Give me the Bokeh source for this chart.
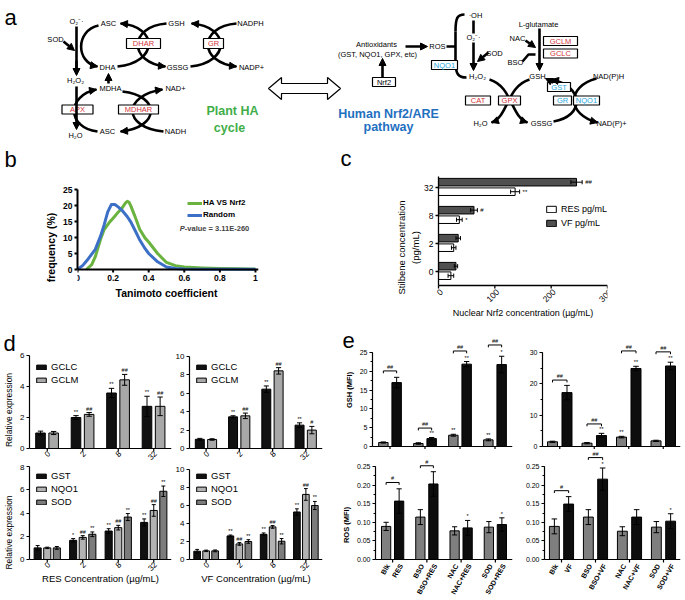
import numpy as np
from bokeh.plotting import figure
from bokeh.layouts import column, row
from bokeh.models import (Range1d, FixedTicker, SingleIntervalTicker, Legend, LegendItem, Label,
                          LabelSet, Arrow, NormalHead, ColumnDataSource, NumeralTickFormatter, Span)
from bokeh.core.properties import value
from bokeh.embed import file_html
from bokeh.resources import INLINE

FONT = "Liberation Sans"
VFONT = value(FONT)

# ---------------- data ----------------
# (b) Tanimoto coefficient distributions (frequency, %)
ha_x = [0.05, 0.08, 0.10, 0.13, 0.15, 0.18, 0.20, 0.23, 0.25, 0.27, 0.28, 0.29, 0.30, 0.32, 0.35,
        0.38, 0.40, 0.45, 0.50, 0.55, 0.60, 0.70, 0.80, 0.90, 1.00]
ha_y = [0, 1.5, 4, 9.5, 12.5, 14.8, 16, 18, 19.2, 20.8, 21.3, 21.0, 19.8, 17, 12.5,
        9.8, 8.6, 5, 2.2, 1.2, 0.8, 0.5, 0.3, 0.2, 0.1]
rand_x = [0, 0.03, 0.06, 0.10, 0.13, 0.15, 0.17, 0.19, 0.21, 0.23, 0.25, 0.28, 0.30, 0.33, 0.35,
          0.38, 0.40, 0.45, 0.50, 0.55, 0.60, 0.70, 0.80, 0.90, 1.00]
rand_y = [0, 1.3, 3.3, 6.3, 10.5, 14, 18, 20.3, 20.3, 19.5, 18.5, 16.5, 14.8, 11.5, 9.2,
          6.5, 5, 2.4, 0.8, 0.3, 0.15, 0.1, 0.05, 0.05, 0.05]
b_ticks = [0, 0.2, 0.4, 0.6, 0.8, 1.0]
b_tick_labels = ["0", "0.2", "0.4", "0.6", "0.8", "1"]

# (c) nuclear Nrf2
stilbene_conc = ["0", "2", "8", "32"]
nrf2_ticks = [0, 100, 200, 300]
res_nrf2 = [22, 27, 37, 136]
res_nrf2_err = [5, 4, 5, 8]
res_nrf2_sig = ["", "", "*", "**"]
vf_nrf2 = [31, 35, 63, 245]
vf_nrf2_err = [3, 4, 6, 10]
vf_nrf2_sig = ["", "", "#", "##"]

# (d) relative expression
conc_labels = ["0", "2", "8", "32"]
res_gclc = [1.0, 2.0, 3.58, 2.72]; res_gclc_err = [0.12, 0.12, 0.3, 0.65]; res_gclc_sig = ["", "**", "**", "**"]
res_gclm = [1.0, 2.2, 4.43, 2.72]; res_gclm_err = [0.1, 0.12, 0.35, 0.6]; res_gclm_sig = ["", "##", "##", "##"]
vf_gclc = [1.0, 3.44, 6.45, 2.54]; vf_gclc_err = [0.1, 0.12, 0.35, 0.25]; vf_gclc_sig = ["", "**", "**", "**"]
vf_gclm = [0.98, 3.55, 8.44, 2.0]; vf_gclm_err = [0.08, 0.3, 0.35, 0.4]; vf_gclm_sig = ["", "##", "##", "#"]
res_gst = [1.0, 1.65, 2.45, 3.19]; res_gst_err = [0.2, 0.15, 0.2, 0.3]; res_gst_sig = ["", "*", "**", "**"]
res_nqo1 = [1.0, 1.9, 2.74, 4.22]; res_nqo1_err = [0.06, 0.15, 0.2, 0.5]; res_nqo1_sig = ["", "##", "##", "##"]
res_sod = [1.0, 2.17, 3.65, 5.87]; res_sod_err = [0.12, 0.2, 0.3, 0.45]; res_sod_sig = ["", "**", "**", "**"]
vf_gst = [0.92, 2.62, 2.8, 5.28]; vf_gst_err = [0.2, 0.1, 0.15, 0.35]; vf_gst_sig = ["", "**", "**", "**"]
vf_nqo1 = [0.96, 1.73, 3.62, 7.23]; vf_nqo1_err = [0.08, 0.15, 0.15, 0.65]; vf_nqo1_sig = ["", "##", "##", "##"]
vf_sod = [0.96, 2.0, 2.03, 6.0]; vf_sod_err = [0.1, 0.2, 0.3, 0.45]; vf_sod_sig = ["", "**", "**", "**"]

# (e) GSH and ROS (MFI)
e_res_labels = ["Blk", "RES", "BSO", "BSO+RES", "NAC", "NAC+RES", "SOD", "SOD+RES"]
e_vf_labels = ["Blk", "VF", "BSO", "BSO+VF", "NAC", "NAC+VF", "SOD", "SOD+VF"]
gsh_res = [1.06, 17.0, 0.8, 2.1, 3.0, 21.9, 1.77, 21.8]
gsh_res_err = [0.15, 1.4, 0.2, 0.3, 0.25, 0.7, 0.25, 2.2]
gsh_res_sig = ["", "", "", "**", "**", "**", "**", "*"]
gsh_res_br = [20.1, 4.9, 25.4, 27.0]; gsh_res_br_lab = ["##", "##", "##", "##"]
gsh_vf = [1.5, 17.2, 1.06, 3.5, 3.0, 24.9, 1.8, 25.7]
gsh_vf_err = [0.2, 2.3, 0.2, 0.7, 0.25, 0.7, 0.2, 1.2]
gsh_vf_sig = ["", "", "", "**", "**", "**", "", "**"]
gsh_vf_br = [21.2, 7.2, 30.5, 30.2]; gsh_vf_br_lab = ["##", "##", "##", "##"]
ros_res = [0.089, 0.157, 0.114, 0.203, 0.077, 0.085, 0.087, 0.094]
ros_res_err = [0.011, 0.033, 0.02, 0.033, 0.011, 0.02, 0.015, 0.018]
ros_res_sig = ["", "", "", "", "", "*", "", "*"]
ros_res_br = [0.207, 0.252]; ros_res_br_lab = ["#", "#"]
ros_vf = [0.089, 0.149, 0.114, 0.216, 0.076, 0.114, 0.087, 0.103]
ros_vf_err = [0.02, 0.02, 0.02, 0.03, 0.012, 0.02, 0.015, 0.02]
ros_vf_sig = ["", "", "", "*", "", "", "", "*"]
ros_vf_br = [0.185, 0.274]; ros_vf_br_lab = ["#", "##"]


# ---------------- helpers ----------------
def mkfig(w, h, l, r, t, b, xr, yr):
    p = figure(width=w, height=h, x_range=xr, y_range=yr, output_backend="svg",
               toolbar_location=None, min_border_left=l, min_border_right=r,
               min_border_top=t, min_border_bottom=b)
    p.outline_line_color = None
    p.xgrid.visible = False
    p.ygrid.visible = False
    p.background_fill_color = "white"
    p.border_fill_color = "white"
    return p


def style(ax, size="8px", bold=False, lsize="9px", lbold=False, lw=1.2):
    ax.axis_line_color = "black"
    ax.axis_line_width = lw
    ax.major_tick_line_color = "black"
    ax.major_tick_line_width = lw
    ax.major_tick_out = 3
    ax.major_tick_in = 0
    ax.minor_tick_line_color = None
    ax.major_label_text_font = FONT
    ax.major_label_text_font_size = size
    ax.major_label_text_font_style = "bold" if bold else "normal"
    ax.major_label_text_color = "black"
    ax.major_label_standoff = 2
    ax.axis_label_text_font = FONT
    ax.axis_label_text_font_size = lsize
    ax.axis_label_text_font_style = "bold" if lbold else "normal"
    ax.axis_label_text_color = "black"
    ax.axis_label_standoff = 3


def title_letter(p, s, offset, standoff):
    p.title.text = s
    p.title.text_font = FONT
    p.title.text_font_size = "22px"
    p.title.text_font_style = "normal"
    p.title.text_color = "black"
    p.title.align = "left"
    p.title.offset = offset
    p.title.standoff = standoff


def y_window(T, B, Y0, Yv, v):
    """data range of a frame from local pixel T (top) to B (bottom), value 0 at Y0 and v at Yv."""
    ppu = (Y0 - Yv) / v
    return Range1d(-(B - Y0) / ppu, (Y0 - T) / ppu), ppu


def bars(p, pos, vals, errs, color, sig, bw, sigsize="5.5px", horizontal=False):
    pos = np.asarray(pos, float)
    vals = np.asarray(vals, float)
    errs = np.asarray(errs, float)
    cap = bw * 0.28
    src = ColumnDataSource(dict(pos=pos, val=vals, up=vals + errs, lo=np.maximum(vals - errs, 0),
                                c0=pos - cap, c1=pos + cap, sig=sig))
    if not horizontal:
        r = p.vbar(x="pos", top="val", bottom=0, width=bw, fill_color=color, line_color="black",
                   line_width=1, source=src)
        p.segment(x0="pos", y0="lo", x1="pos", y1="up", line_color="black", line_width=1, source=src)
        p.segment(x0="c0", y0="up", x1="c1", y1="up", line_color="black", line_width=1, source=src)
        p.segment(x0="c0", y0="lo", x1="c1", y1="lo", line_color="black", line_width=1, source=src)
        p.add_layout(LabelSet(x="pos", y="up", text="sig", source=src, text_align="center",
                              text_baseline="bottom", y_offset=1, text_font=VFONT,
                              text_font_size=sigsize, text_color="black"))
    else:
        r = p.hbar(y="pos", right="val", left=0, height=bw, fill_color=color, line_color="black",
                   line_width=1, source=src)
        p.segment(x0="lo", y0="pos", x1="up", y1="pos", line_color="black", line_width=1, source=src)
        p.segment(x0="up", y0="c0", x1="up", y1="c1", line_color="black", line_width=1, source=src)
        p.segment(x0="lo", y0="c0", x1="lo", y1="c1", line_color="black", line_width=1, source=src)
        p.add_layout(LabelSet(x="up", y="pos", text="sig", source=src, text_align="left",
                              text_baseline="middle", x_offset=3, text_font=VFONT,
                              text_font_size=sigsize, text_color="black"))
    return r


def legend(p, items, location, margin=6, size="9.5px", gw=12, gh=6, spacing=2, lh=9):
    leg = Legend(items=items, location=location, margin=margin, padding=0, spacing=spacing,
                 glyph_width=gw, glyph_height=gh, label_standoff=4, label_text_font=FONT,
                 label_text_font_size=size, label_height=lh, border_line_alpha=0,
                 background_fill_alpha=0, label_text_color="black")
    p.add_layout(leg)
    return leg


def x_axis_in_frame(p, tick_x, label_x, labels, ppu, angle=0.0, size="8px", bold=False, lw=1.2,
                    title=None, title_dy=0, title_x=None, title_size="9.5px", title_bold=False,
                    label_dy=5):
    """x axis drawn at y = 0 inside the frame (frame reaches to the figure bottom)."""
    p.xaxis.visible = False
    p.add_layout(Span(location=0, dimension="width", line_color="black", line_width=lw))
    tl = 3.0 / ppu
    p.segment(x0=list(tick_x), y0=[0] * len(tick_x), x1=list(tick_x), y1=[-tl] * len(tick_x),
              line_color="black", line_width=lw)
    src = ColumnDataSource(dict(x=list(label_x), y=[0] * len(label_x), t=labels))
    style_kw = dict(text_font=VFONT, text_font_size=size, text_font_style="bold" if bold else "normal",
                    text_color="black")
    if labels:
        if angle:
            p.add_layout(LabelSet(x="x", y="y", text="t", source=src, angle=angle, text_align="right",
                                  text_baseline="middle", x_offset=2, y_offset=-label_dy, **style_kw))
        else:
            p.add_layout(LabelSet(x="x", y="y", text="t", source=src, text_align="center",
                                  text_baseline="top", y_offset=-label_dy, **style_kw))
    if title:
        p.add_layout(Label(x=title_x, y=0, y_offset=-title_dy, text=title, text_align="center",
                           text_baseline="middle", text_font=FONT, text_font_size=title_size,
                           text_font_style="bold" if title_bold else "normal", text_color="black"))


# ---------------- panel a (diagram) ----------------
pa = figure(width=685, height=176, x_range=Range1d(0, 685), y_range=Range1d(176, 0),
            x_axis_type=None, y_axis_type=None, output_backend="svg", toolbar_location=None,
            min_border=0)
pa.outline_line_color = None
pa.background_fill_color = "white"
pa.border_fill_color = "white"

RED = "#d2353b"
CYAN = "#2aa6dc"


def arrow(p, xs, ys, xe, ye, lw=2.6, size=6, line=True):
    kw = dict(line_width=lw, line_color="black")
    if not line:
        kw = dict(line_alpha=0)
    p.add_layout(Arrow(end=NormalHead(size=size, fill_color="black", line_color="black", line_width=1),
                       x_start=xs, y_start=ys, x_end=xe, y_end=ye, **kw))


diag_text = [
    ("O₂⁻·", 76, 21), ("SOD", 55, 39), ("H₂O₂", 75, 80), ("H₂O", 75, 135),
    ("ASC", 108, 23), ("DHA", 107, 67), ("MDHA", 110, 88), ("ASC", 107, 131),
    ("GSH", 176, 23), ("GSSG", 177, 67), ("NADPH", 250, 23), ("NADP+", 251, 67),
    ("NAD+", 175, 88), ("NADH", 175, 131),
    ("Antioxidants", 376, 44), ("(GST, NQO1, GPX, etc)", 377, 54), ("ROS", 437, 46),
    ("·OH", 475, 15), ("O₂⁻·", 473, 37), ("SOD", 494, 53), ("H₂O₂", 477, 76),
    ("L-glutamate", 538, 24), ("NAC", 517, 38), ("BSO", 515, 62), ("GSH", 537, 76),
    ("NAD(P)H", 608, 76), ("H₂O", 480, 123), ("GSSG", 541, 123), ("NAD(P)+", 611, 123),
]
pa.text(x=[t[1] for t in diag_text], y=[t[2] for t in diag_text], text=[t[0] for t in diag_text],
        text_font=VFONT, text_font_size="7.5px", text_align="center", text_baseline="middle",
        text_color="black")

curves = [
    (98, 25, 75, 30, 75, 62, 97, 66, True),
    (117, 66, 158, 62, 158, 26, 120, 23, True),
    (166, 23, 128, 26, 128, 62, 165, 66, True),
    (190, 66, 230, 62, 230, 26, 191, 23, True),
    (236, 23, 198, 26, 198, 62, 236, 66, True),
    (122, 91, 160, 95, 160, 127, 120, 131, True),
    (163, 131, 122, 127, 122, 95, 162, 89, True),
    (97, 131, 66, 127, 66, 95, 96, 89, True),
    (489, 79, 512, 86, 510, 116, 527, 122, True),
    (529, 79, 506, 86, 508, 116, 491, 122, True),
    (553, 121, 584, 116, 584, 86, 551, 79, True),
    (596, 78, 566, 86, 566, 114, 597, 122, True),
    (455, 31, 455, 17, 457, 14, 464, 14, False),
    (455, 61, 455, 74, 458, 77, 466, 77, False),
]
pa.bezier(x0=[c[0] for c in curves], y0=[c[1] for c in curves],
          cx0=[c[2] for c in curves], cy0=[c[3] for c in curves],
          cx1=[c[4] for c in curves], cy1=[c[5] for c in curves],
          x1=[c[6] for c in curves], y1=[c[7] for c in curves],
          line_color="black", line_width=2.6)
for c in curves:
    if c[8]:
        x1, y1, cx1, cy1 = c[6], c[7], c[4], c[5]
        arrow(pa, x1 - 0.3 * (x1 - cx1), y1 - 0.3 * (y1 - cy1), x1, y1, line=False, size=7)

pa.segment(x0=[455, 446, 473, 76], y0=[31, 46, 20, 26], x1=[455, 455, 473, 76], y1=[61, 46, 33, 72],
           line_color="black", line_width=2.6)
pa.line(x=[522, 528, 535], y=[61, 54, 54], line_color="black", line_width=2.6)
for (xs, ys, xe, ye) in [(76, 60, 76, 75), (76, 86, 76, 129), (63, 41, 74, 50), (108, 83, 108, 73),
                         (405, 46, 427, 46), (382, 77, 382, 58), (473, 42, 473, 70),
                         (488, 52, 477, 61), (539, 28, 539, 70), (525, 40, 535, 47),
                         (553, 82, 545, 78)]:
    arrow(pa, xs, ys, xe, ye, size=7)

boxes = [
    ("DHAR", 143, 43, 34, 10, RED), ("GR", 213, 43, 20, 10, RED),
    ("APX", 77, 109, 31, 9, RED), ("MDHAR", 138, 109, 40, 9, RED),
    ("Nrf2", 383.5, 81.5, 23, 9, "black"), ("NQO1", 444, 64.5, 26, 9, CYAN),
    ("GCLM", 560, 40.5, 34, 9, RED), ("GCLC", 560, 53, 34, 9, RED),
    ("GST", 558.5, 86.5, 23, 9, CYAN), ("CAT", 477.5, 100, 25, 9, RED),
    ("GPX", 509, 100, 22, 9, RED), ("GR", 562, 100, 18, 9, CYAN), ("NQO1", 586, 100, 26, 9, CYAN),
]
bsrc = ColumnDataSource(dict(t=[b[0] for b in boxes], x=[b[1] for b in boxes], y=[b[2] for b in boxes],
                             w=[b[3] for b in boxes], h=[b[4] for b in boxes], c=[b[5] for b in boxes]))
pa.rect(x="x", y="y", width="w", height="h", fill_color="white", line_color="black",
        line_width=1.2, source=bsrc)
pa.text(x="x", y="y", text="t", text_color="c", text_font=VFONT, text_font_size="7.5px",
        text_align="center", text_baseline="middle", source=bsrc)

pa.patch(x=[268, 281, 281, 327, 327, 340, 327, 327, 281, 281],
         y=[88, 77, 83, 83, 77, 88, 99, 93, 93, 99],
         fill_color="white", line_color="black", line_width=1.2)

pa.text(x=[232, 229], y=[110, 127], text=["Plant HA", "cycle"], text_font=VFONT,
        text_font_size="12.5px", text_font_style="bold", text_color="#3fae49",
        text_align="center", text_baseline="middle")
pa.text(x=[388, 388], y=[113, 126], text=["Human Nrf2/ARE", "pathway"], text_font=VFONT,
        text_font_size="12.5px", text_font_style="bold", text_color="#1f70bf",
        text_align="center", text_baseline="middle")
pa.add_layout(Label(x=4, y=17, text="a", text_font=FONT, text_font_size="22px",
                    text_baseline="alphabetic", text_align="left", text_color="black"))
for s, lx, ly in [("b", 4, 159), ("c", 340, 158)]:
    pa.add_layout(Label(x=lx, y=ly, text=s, text_font=FONT, text_font_size="22px",
                        text_baseline="middle", text_align="left", text_color="black"))

# ---------------- panel b ----------------
b_yr, b_ppu = y_window(0, 142, 93, 13, 25)
pb = mkfig(340, 142, 77, 82, 0, 0, Range1d(0, 1.017), b_yr)
r_ha = pb.line(ha_x, ha_y, line_color="#6ab33f", line_width=3, line_join="round")
r_rd = pb.line(rand_x, rand_y, line_color="#3b70c6", line_width=3, line_join="round")
style(pb.yaxis[0], size="8.5px", bold=True, lsize="10.5px", lbold=True, lw=2)
pb.yaxis.ticker = SingleIntervalTicker(interval=5, num_minor_ticks=0)
pb.yaxis.bounds = (0, 25)
pb.yaxis.axis_label = "frequency (%)"
x_axis_in_frame(pb, b_ticks, b_ticks, b_tick_labels, b_ppu, size="8.5px", bold=True, lw=2,
                title="Tanimoto coefficient", title_dy=23, title_x=0.5, title_size="10.5px", title_bold=True)
legend(pb, [LegendItem(label="HA VS Nrf2", renderers=[r_ha]), LegendItem(label="Random", renderers=[r_rd])],
       (110, 99), size="8px", gw=15, gh=8, spacing=3, lh=9)
pb.legend.label_text_font_style = "bold"
pb.legend.label_standoff = 1
pb.add_layout(Label(x=0.575, y=12.8, text="P", text_font=FONT, text_font_size="7.5px",
                    text_font_style="bold italic", text_baseline="middle"))
pb.add_layout(Label(x=0.575, y=12.8, x_offset=5, text="-value = 3.11E-260", text_font=FONT,
                    text_font_size="7.5px", text_font_style="bold", text_baseline="middle"))

# ---------------- panel c ----------------
c_ppx, c_ppy = 0.5633, 28.0   # px per data unit of this frame
pc = mkfig(345, 142, 80, 78, 0, 0, Range1d(-18 / c_ppx, 300), Range1d(-0.5 - 33 / c_ppy, 3.5 - 3 / c_ppy))
ypos = np.arange(len(stilbene_conc), dtype=float)
r_res = bars(pc, ypos - 0.15, res_nrf2, res_nrf2_err, "white", res_nrf2_sig, 0.27, sigsize="6px", horizontal=True)
r_vf = bars(pc, ypos + 0.19, vf_nrf2, vf_nrf2_err, "#505050", vf_nrf2_sig, 0.27, sigsize="6px", horizontal=True)
pc.xaxis.visible = False
ya = pc.yaxis[0]
ya.ticker = FixedTicker(ticks=[])
ya.axis_line_color = None
ya.major_tick_line_color = None
ya.bounds = (-0.5, 3.5)
ya.axis_label = "Stilbene concentration\n(pg/mL)"
ya.axis_label_text_font = FONT
ya.axis_label_text_font_size = "9.5px"
ya.axis_label_text_font_style = "normal"
ya.axis_label_text_color = "black"
ya.axis_label_standoff = 0
pc.segment(x0=[0, 0], y0=[-0.5, -0.5], x1=[nrf2_ticks[-1], 0], y1=[-0.5, 3.5],
           line_color="black", line_width=1.3)
pc.segment(x0=nrf2_ticks, y0=[-0.5] * 4, x1=nrf2_ticks, y1=[-0.5 - 3 / c_ppy] * 4,
           line_color="black", line_width=1.3)
pc.segment(x0=[0] * 4, y0=list(ypos), x1=[-3 / c_ppx] * 4, y1=list(ypos), line_color="black", line_width=1.3)
pc.add_layout(LabelSet(x="x", y="y", text="t", source=ColumnDataSource(dict(x=[0] * 4, y=list(ypos), t=stilbene_conc)),
                       text_align="right", text_baseline="middle", x_offset=-5, text_font=VFONT,
                       text_font_size="8.5px", text_color="black"))
pc.add_layout(LabelSet(x="x", y="y", text="t",
                       source=ColumnDataSource(dict(x=nrf2_ticks, y=[-0.5] * 4, t=[str(v) for v in nrf2_ticks])),
                       angle=np.pi / 4, text_align="right", text_baseline="middle", x_offset=3, y_offset=-5,
                       text_font=VFONT, text_font_size="8.5px", text_color="black"))
pc.add_layout(Label(x=nrf2_ticks[-1] / 2, y=-0.5, y_offset=-27, text="Nuclear Nrf2 concentration (µg/mL)",
                    text_align="center", text_baseline="middle", text_font=FONT, text_font_size="9px",
                    text_color="black"))
legend(pc, [LegendItem(label="RES pg/mL", renderers=[r_res]), LegendItem(label="VF pg/mL", renderers=[r_vf])],
       (125, 90), size="9px", gw=12, gh=8, spacing=4, lh=9)


# ---------------- panel d ----------------
def d_chart(w, h, l, r, t, Y0, Yv, v, series, names, colors, offsets, bw, xlabel=None, ylabel=None):
    yr, ppu = y_window(t, h, Y0, Yv, v)
    p = mkfig(w, h, l, r, t, 0, Range1d(-0.5, 3.5), yr)
    base = np.arange(len(conc_labels), dtype=float)
    items = []
    for (vals, errs, sig), off, col, nm in zip(series, offsets, colors, names):
        rr = bars(p, base + off, vals, errs, col, sig, bw)
        items.append(LegendItem(label=nm, renderers=[rr]))
    style(p.yaxis[0], size="8px", lsize="8.5px")
    p.yaxis.ticker = SingleIntervalTicker(interval=2, num_minor_ticks=0)
    p.yaxis.bounds = (0, v)
    if ylabel:
        p.yaxis.axis_label = ylabel
    x_axis_in_frame(p, base, base, conc_labels, ppu, angle=np.pi / 4, size="8px",
                    title=xlabel, title_dy=19, title_x=1.5, title_size="9.5px", label_dy=4)
    legend(p, items, "top_left", margin=6)
    return p


BLK = "#111111"
dtl = d_chart(172, 146, 29, 1, 37, 130, 37, 6,
              [(res_gclc, res_gclc_err, res_gclc_sig), (res_gclm, res_gclm_err, res_gclm_sig)],
              ["GCLC", "GCLM"], [BLK, "#a8a8a8"], [-0.19, 0.18], 0.27, ylabel="Relative expression")
dtr = d_chart(166, 146, 14, 16, 37, 130, 38, 10,
              [(vf_gclc, vf_gclc_err, vf_gclc_sig), (vf_gclm, vf_gclm_err, vf_gclm_sig)],
              ["GCLC", "GCLM"], [BLK, "#a8a8a8"], [-0.19, 0.18], 0.27)
dbl = d_chart(172, 136, 29, 1, 0, 95, 2, 8,
              [(res_gst, res_gst_err, res_gst_sig), (res_nqo1, res_nqo1_err, res_nqo1_sig),
               (res_sod, res_sod_err, res_sod_sig)],
              ["GST", "NQO1", "SOD"], [BLK, "#b3b3b3", "#7c7c7c"], [-0.27, 0.0, 0.27], 0.2,
              xlabel="RES Concentration (µg/mL)", ylabel="Relative expression")
dbr = d_chart(166, 136, 14, 16, 0, 95, 5, 10,
              [(vf_gst, vf_gst_err, vf_gst_sig), (vf_nqo1, vf_nqo1_err, vf_nqo1_sig),
               (vf_sod, vf_sod_err, vf_sod_sig)],
              ["GST", "NQO1", "SOD"], [BLK, "#b3b3b3", "#7c7c7c"], [-0.27, 0.0, 0.27], 0.2,
              xlabel="VF Concentration (µg/mL)")
title_letter(dtl, "d", -26, 0)


# ---------------- panel e ----------------
def e_chart(w, h, l, r, t, Y0, Yv, v, interval, vals, errs, sig, labels, br_h, br_lab,
            show_labels, ylabel=None, fmt=None, off=0.19, bw=0.27):
    yr, ppu = y_window(t, h, Y0, Yv, v)
    n = len(vals)
    idx = np.arange(n)
    pair = idx // 2
    side = np.where(idx % 2 == 0, -1.0, 1.0)
    x = pair + side * off
    p = mkfig(w, h, l, r, t, 0, Range1d(-0.5, 3.5), yr)
    for s, col in [(-1.0, "#7f7f7f"), (1.0, "#0d0d0d")]:
        m = side == s
        bars(p, x[m], np.asarray(vals)[m], np.asarray(errs)[m], col, list(np.asarray(sig)[m]), bw)
    d = 0.025 * v
    bx, by = [], []
    for k, hgt in enumerate(br_h):
        xa, xb = x[2 * k], x[2 * k + 1]
        bx.append([xa, xa, xb, xb])
        by.append([hgt - d, hgt, hgt, hgt - d])
    p.multi_line(xs=bx, ys=by, line_color="black", line_width=1)
    bsrc = ColumnDataSource(dict(x=[float(pair[2 * k]) for k in range(len(br_h))], y=br_h, t=br_lab))
    p.add_layout(LabelSet(x="x", y="y", text="t", source=bsrc, text_align="center", text_baseline="bottom",
                          y_offset=1, text_font=VFONT, text_font_size="5.5px", text_color="black"))
    style(p.yaxis[0], size="7px", lsize="7.5px", lbold=True)
    p.yaxis.ticker = SingleIntervalTicker(interval=interval, num_minor_ticks=2)
    p.yaxis.minor_tick_line_color = "black"
    p.yaxis.minor_tick_out = 2
    p.yaxis.minor_tick_in = 0
    p.yaxis.bounds = (0, v)
    if fmt:
        p.yaxis.formatter = NumeralTickFormatter(format=fmt)
    if ylabel:
        p.yaxis.axis_label = ylabel
    x_axis_in_frame(p, [0.0, 1.0, 2.0, 3.0], x, labels if show_labels else [], ppu,
                    angle=np.deg2rad(60), size="7px", bold=True)
    return p


etl = e_chart(184, 131, 34, 10, 12, 128, 34, 25, 5, gsh_res, gsh_res_err, gsh_res_sig, e_res_labels,
              gsh_res_br, gsh_res_br_lab, False, ylabel="GSH (MFI)")
etr = e_chart(163, 131, 20, 5, 12, 128, 34, 30, 10, gsh_vf, gsh_vf_err, gsh_vf_sig, e_vf_labels,
              gsh_vf_br, gsh_vf_br_lab, False, off=0.21, bw=0.29)
ebl = e_chart(184, 151, 34, 10, 0, 110, 17, 0.25, 0.05, ros_res, ros_res_err, ros_res_sig, e_res_labels,
              ros_res_br, ros_res_br_lab, True, ylabel="ROS (MFI)", fmt="0.00")
ebr = e_chart(163, 151, 20, 5, 0, 110, 17, 0.25, 0.05, ros_vf, ros_vf_err, ros_vf_sig, e_vf_labels,
              ros_vf_br, ros_vf_br_lab, True, fmt="0.00", off=0.21, bw=0.29)
title_letter(etl, "e", -30, -34)

layout = column(
    pa,
    row(pb, pc),
    row(column(row(dtl, dtr), row(dbl, dbr)), column(row(etl, etr), row(ebl, ebr))),
)
open("out.html", "w").write(file_html(layout, INLINE, "Figure"))
